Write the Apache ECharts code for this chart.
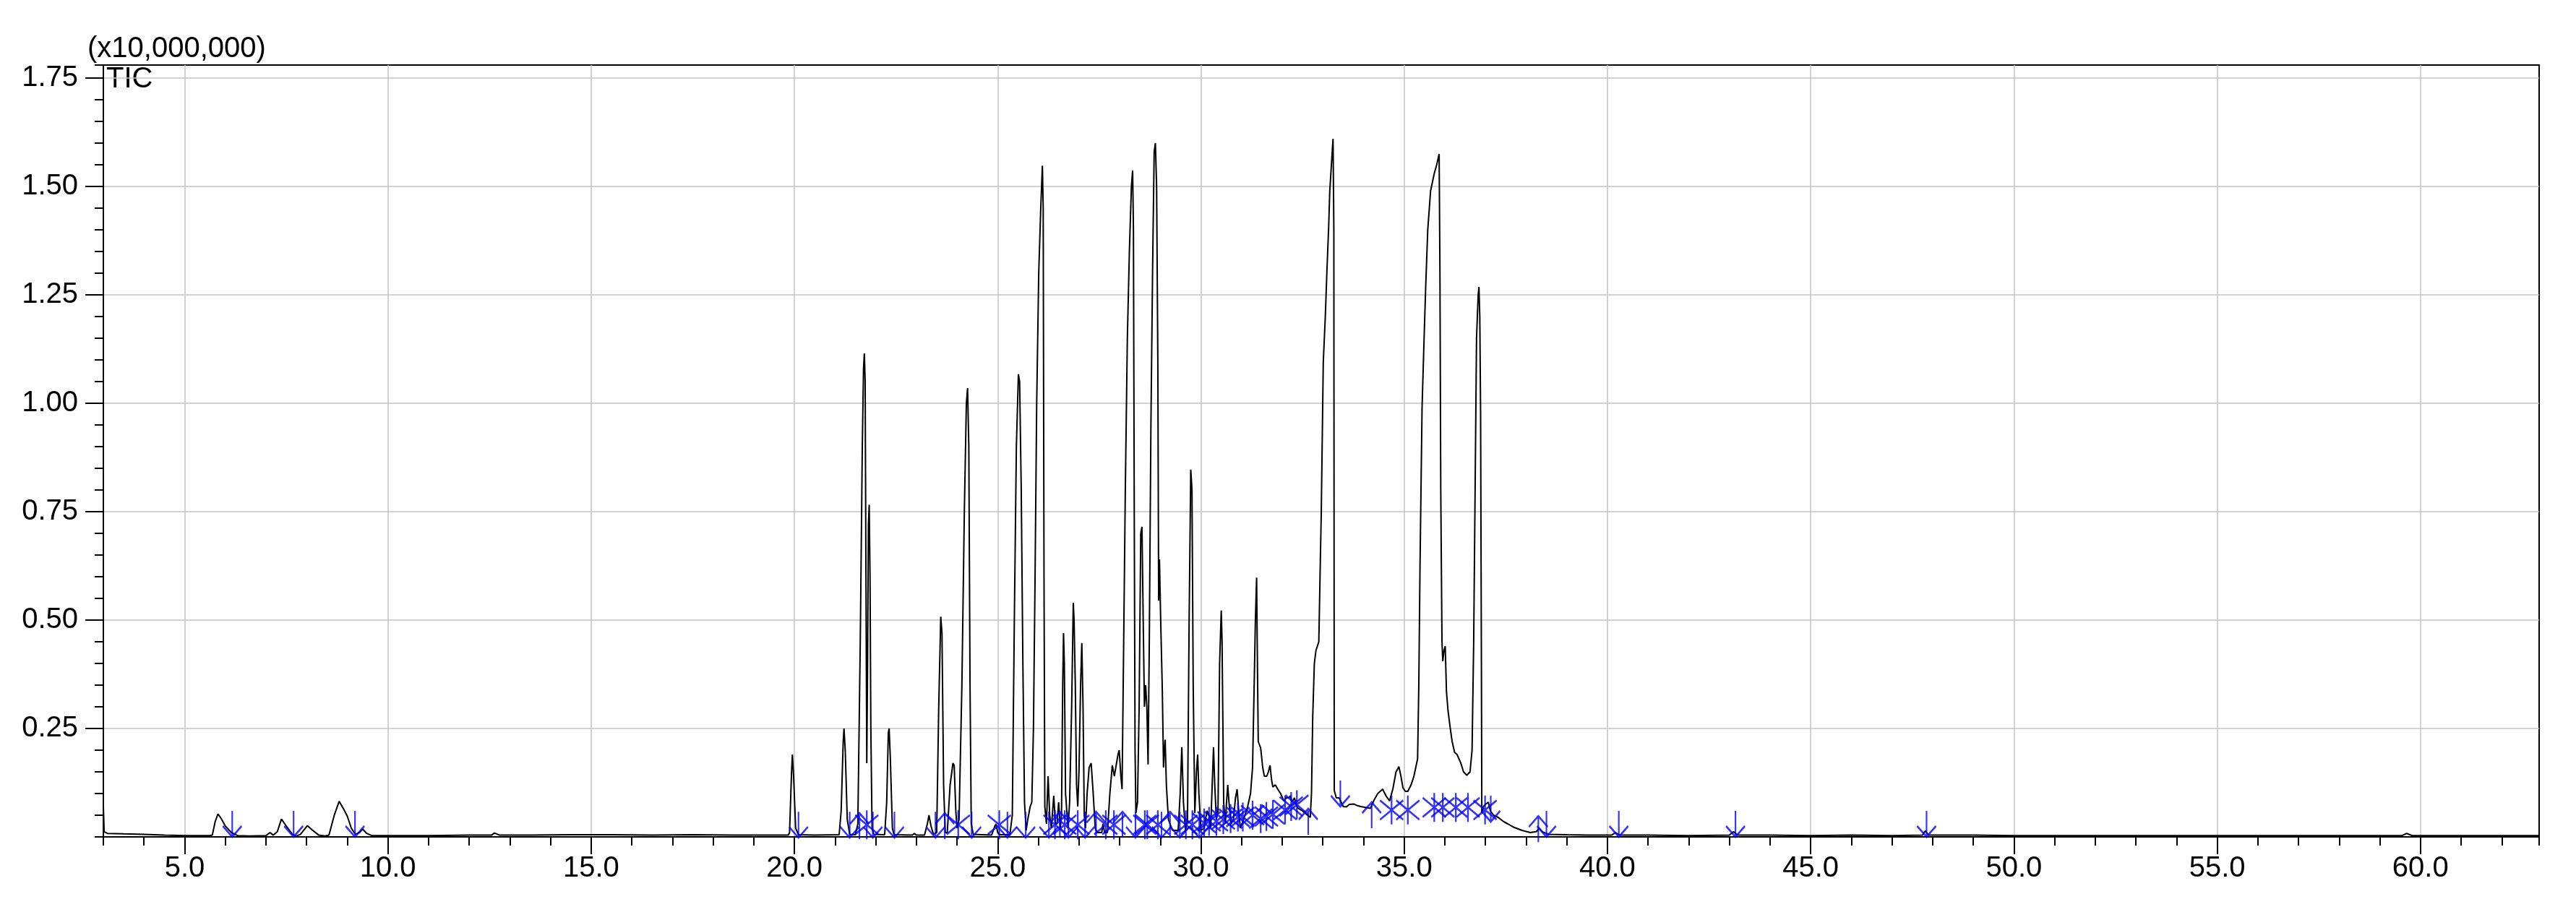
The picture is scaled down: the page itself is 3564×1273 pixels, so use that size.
<!DOCTYPE html>
<html>
<head>
<meta charset="utf-8">
<title>TIC</title>
<script src="https://cdn.jsdelivr.net/npm/echarts@6/dist/echarts.min.js"></script>
<style>
html, body { margin: 0; padding: 0; background: #fff; }
#chart { width: 3564px; height: 1273px; }
</style>
</head>
<body>
<div id="chart"></div>
<script>
// tick labels
var timeTicks = [5, 10, 15, 20, 25, 30, 35, 40, 45, 50, 55, 60];
var intensityTicks = [0.25, 0.5, 0.75, 1.0, 1.25, 1.5, 1.75];

// TIC trace, [retention time (min), intensity (x10,000,000)]
var traceEarly = [
    [3.0, 0.07], [3.02, 0.012], [3.1, 0.008], [3.5, 0.007], [4.0, 0.006], [4.5, 0.004], [5.0, 0.003],
    [5.6, 0.003], [5.68, 0.004], [5.75, 0.035], [5.82, 0.053], [5.9, 0.042], [6.0, 0.025], [6.15, 0.01],
    [6.3, 0.003], [6.6, 0.002], [7.0, 0.003], [7.1, 0.01], [7.18, 0.004], [7.28, 0.012], [7.38, 0.041],
    [7.5, 0.025], [7.65, 0.006], [7.75, 0.002], [7.85, 0.006], [8.02, 0.026], [8.15, 0.015], [8.3, 0.004],
    [8.45, 0.002], [8.55, 0.004], [8.68, 0.05], [8.8, 0.082], [8.9, 0.066], [9.0, 0.048], [9.1, 0.02],
    [9.2, 0.006], [9.3, 0.01], [9.38, 0.018], [9.48, 0.008], [9.6, 0.003], [10.0, 0.003], [11.0, 0.003],
    [12.0, 0.004], [12.55, 0.004], [12.62, 0.009], [12.75, 0.004], [13.5, 0.004], [14.5, 0.005],
    [15.5, 0.005], [16.5, 0.004], [17.5, 0.005], [18.5, 0.004], [19.5, 0.004], [19.85, 0.004]
];
var traceMid = [
    [19.88, 0.01], [19.93, 0.15], [19.95, 0.19], [19.98, 0.14], [20.03, 0.02], [20.1, 0.005], [20.5, 0.004],
    [21.1, 0.005], [21.15, 0.06], [21.2, 0.22], [21.22, 0.25], [21.25, 0.2], [21.3, 0.04], [21.36, 0.006],
    [21.5, 0.005], [21.56, 0.03], [21.62, 0.45], [21.67, 0.9], [21.7, 1.08], [21.72, 1.115], [21.74, 1.05],
    [21.76, 0.6], [21.78, 0.17], [21.8, 0.4], [21.82, 0.72], [21.84, 0.766], [21.86, 0.6], [21.88, 0.25],
    [21.91, 0.02], [21.95, 0.006], [22.22, 0.005], [22.27, 0.08], [22.31, 0.24], [22.33, 0.25], [22.36, 0.18],
    [22.41, 0.02], [22.45, 0.005], [22.9, 0.004], [22.95, 0.008], [23.0, 0.004], [23.2, 0.004], [23.27, 0.03],
    [23.31, 0.05], [23.36, 0.025], [23.42, 0.006], [23.5, 0.01], [23.55, 0.3], [23.6, 0.508], [23.63, 0.47],
    [23.67, 0.12], [23.71, 0.01], [23.76, 0.01], [23.83, 0.12], [23.9, 0.17], [23.93, 0.165], [23.97, 0.06],
    [24.0, 0.02], [24.05, 0.04], [24.12, 0.35], [24.18, 0.75], [24.23, 1.0], [24.26, 1.035], [24.29, 0.9],
    [24.32, 0.35], [24.35, 0.03], [24.4, 0.006], [24.85, 0.004], [24.93, 0.025], [24.96, 0.03], [25.0, 0.01],
    [25.05, 0.005], [25.3, 0.005], [25.36, 0.05], [25.41, 0.5], [25.46, 0.9], [25.51, 1.067], [25.54, 1.05],
    [25.58, 0.8], [25.62, 0.4], [25.66, 0.08], [25.7, 0.015], [25.74, 0.04], [25.8, 0.07], [25.84, 0.08],
    [25.88, 0.25], [25.92, 0.6], [25.96, 1.0], [26.01, 1.3], [26.06, 1.45], [26.1, 1.548], [26.12, 1.45],
    [26.14, 0.6], [26.16, 0.07]
];
var traceCore = [
    [26.2, 0.03], [26.24, 0.14], [26.28, 0.05], [26.32, 0.02], [26.38, 0.095], [26.42, 0.03], [26.46, 0.03],
    [26.5, 0.08], [26.54, 0.02], [26.57, 0.05], [26.6, 0.35], [26.62, 0.47], [26.64, 0.4], [26.67, 0.1],
    [26.73, 0.02], [26.77, 0.08], [26.82, 0.3], [26.86, 0.54], [26.88, 0.5], [26.91, 0.35], [26.94, 0.12],
    [26.97, 0.07], [27.0, 0.15], [27.04, 0.35], [27.07, 0.447], [27.1, 0.3], [27.13, 0.05], [27.16, 0.02],
    [27.2, 0.1], [27.25, 0.16], [27.3, 0.17], [27.35, 0.1], [27.4, 0.02], [27.45, 0.01], [27.56, 0.01],
    [27.59, 0.03], [27.63, 0.01], [27.7, 0.01], [27.76, 0.1], [27.82, 0.165], [27.87, 0.14], [27.9, 0.14],
    [27.96, 0.19], [27.99, 0.2], [28.03, 0.14], [28.06, 0.11], [28.1, 0.45], [28.14, 0.8], [28.19, 1.15],
    [28.24, 1.35], [28.29, 1.5], [28.32, 1.537], [28.34, 1.4], [28.36, 0.75], [28.38, 0.2], [28.4, 0.055],
    [28.44, 0.08], [28.48, 0.3], [28.52, 0.7], [28.55, 0.715], [28.58, 0.5], [28.61, 0.3], [28.64, 0.35],
    [28.67, 0.3], [28.7, 0.167], [28.73, 0.45], [28.77, 0.95], [28.81, 1.3], [28.85, 1.58], [28.88, 1.6],
    [28.91, 1.5], [28.94, 1.1], [28.96, 0.545], [28.98, 0.64], [29.01, 0.5], [29.05, 0.34], [29.08, 0.16],
    [29.1, 0.2], [29.12, 0.224], [29.15, 0.12], [29.2, 0.04], [29.3, 0.015], [29.44, 0.015], [29.49, 0.1],
    [29.53, 0.207], [29.57, 0.08], [29.62, 0.015], [29.67, 0.04], [29.71, 0.5], [29.75, 0.847], [29.78, 0.8],
    [29.81, 0.35], [29.85, 0.055], [29.89, 0.15], [29.92, 0.19], [29.95, 0.1], [30.0, 0.015], [30.08, 0.02],
    [30.15, 0.06], [30.2, 0.05], [30.24, 0.02], [30.27, 0.1], [30.31, 0.207], [30.34, 0.12], [30.38, 0.04],
    [30.42, 0.06], [30.46, 0.4], [30.5, 0.522], [30.52, 0.45], [30.56, 0.08], [30.6, 0.03], [30.63, 0.08],
    [30.66, 0.12], [30.69, 0.08], [30.74, 0.03], [30.8, 0.04], [30.85, 0.09], [30.89, 0.11], [30.93, 0.06],
    [30.97, 0.02], [31.05, 0.04], [31.15, 0.07], [31.22, 0.1], [31.27, 0.16], [31.31, 0.35], [31.34, 0.5],
    [31.37, 0.598]
];
var traceLate = [
    [31.39, 0.4], [31.41, 0.22], [31.47, 0.205], [31.52, 0.16], [31.56, 0.14], [31.62, 0.14], [31.66, 0.15],
    [31.7, 0.165], [31.74, 0.13], [31.77, 0.115], [31.83, 0.12], [31.89, 0.11], [31.96, 0.1], [32.04, 0.083],
    [32.1, 0.09], [32.16, 0.09], [32.2, 0.095], [32.24, 0.08], [32.3, 0.09], [32.34, 0.075], [32.39, 0.066],
    [32.5, 0.06], [32.57, 0.054], [32.69, 0.045], [32.72, 0.1], [32.75, 0.276], [32.79, 0.4], [32.83, 0.43],
    [32.9, 0.45], [32.93, 0.6], [32.96, 0.744], [33.01, 1.095], [33.06, 1.2], [33.1, 1.306], [33.14, 1.4],
    [33.17, 1.49], [33.21, 1.55], [33.25, 1.61], [33.27, 1.4], [33.28, 0.107], [33.33, 0.09], [33.4, 0.09],
    [33.5, 0.07], [33.58, 0.069], [33.65, 0.075], [33.76, 0.076], [33.85, 0.072], [33.93, 0.07], [34.05, 0.068],
    [34.17, 0.066], [34.26, 0.085], [34.35, 0.1], [34.47, 0.11], [34.55, 0.095], [34.64, 0.083], [34.72, 0.11],
    [34.8, 0.15], [34.87, 0.162], [34.92, 0.14], [34.97, 0.113], [35.03, 0.105], [35.09, 0.105], [35.17, 0.12],
    [35.24, 0.14], [35.33, 0.18], [35.36, 0.35], [35.39, 0.628], [35.44, 0.99], [35.49, 1.15], [35.53, 1.27],
    [35.58, 1.4], [35.65, 1.49], [35.74, 1.53], [35.8, 1.55], [35.86, 1.575], [35.88, 1.3], [35.9, 0.8],
    [35.93, 0.45], [35.95, 0.405], [35.98, 0.43], [36.01, 0.44], [36.04, 0.335], [36.08, 0.29], [36.13, 0.253],
    [36.18, 0.22], [36.24, 0.195], [36.3, 0.19], [36.39, 0.171], [36.46, 0.15], [36.54, 0.142], [36.62, 0.15],
    [36.67, 0.2], [36.71, 0.45], [36.74, 0.75], [36.78, 1.15], [36.82, 1.25], [36.84, 1.268], [36.86, 1.2],
    [36.88, 0.98], [36.9, 0.4], [36.91, 0.055], [36.95, 0.07], [37.0, 0.075], [37.07, 0.08], [37.12, 0.06],
    [37.2, 0.05], [37.31, 0.045], [37.45, 0.035], [37.55, 0.03], [37.7, 0.022], [37.9, 0.015], [38.1, 0.01],
    [38.25, 0.012], [38.32, 0.02], [38.4, 0.012], [38.55, 0.006], [39.0, 0.005], [39.5, 0.004], [40.1, 0.004],
    [40.2, 0.01], [40.3, 0.004]
];
var traceTail = [
    [41.0, 0.004], [42.0, 0.003], [43.0, 0.004], [43.1, 0.012], [43.2, 0.004], [44.0, 0.004], [45.0, 0.003],
    [46.0, 0.004], [47.0, 0.003], [47.75, 0.004], [47.82, 0.014], [47.9, 0.004], [49.0, 0.004], [50.0, 0.003],
    [52.0, 0.003], [54.0, 0.003], [56.0, 0.003], [58.0, 0.003], [59.55, 0.003], [59.66, 0.008], [59.8, 0.003],
    [61.0, 0.003], [62.92, 0.003]
];

// peak integration marks
var downMarks = [
    [6.17, 0.03], [7.68, 0.03], [9.19, 0.03], [20.1, 0.028], [21.36, 0.028], [21.93, 0.028], [22.46, 0.028],
    [23.47, 0.028], [24.36, 0.028], [25.24, 0.028], [25.69, 0.028], [26.26, 0.028], [26.74, 0.028],
    [27.15, 0.028], [28.39, 0.028], [29.03, 0.028], [29.48, 0.028], [29.96, 0.028], [33.43, 0.1],
    [37.13, 0.065], [38.5, 0.03], [40.28, 0.03], [43.15, 0.03], [47.85, 0.03]
];
var upMarks = [
    [21.6, 0.025], [23.7, 0.025], [26.53, 0.028], [27.42, 0.028], [28.07, 0.028], [29.24, 0.028],
    [32.64, 0.035], [34.2, 0.05], [38.3, 0.018]
];
var crossMarks = [
    [21.78, 0.028], [24.03, 0.028], [25.04, 0.028], [26.41, 0.028], [26.65, 0.028], [26.97, 0.028],
    [27.66, 0.028], [27.86, 0.028], [28.62, 0.028], [28.68, 0.028], [28.94, 0.028], [29.63, 0.028],
    [29.79, 0.028], [30.08, 0.032], [30.2, 0.036], [30.38, 0.036], [30.55, 0.04], [30.73, 0.042], [30.91, 0.046],
    [31.03, 0.046], [31.27, 0.05], [31.47, 0.042], [31.61, 0.047], [31.77, 0.052], [32.07, 0.062], [32.22, 0.07],
    [32.36, 0.074], [34.69, 0.062], [35.09, 0.062], [35.74, 0.068], [35.95, 0.068], [36.27, 0.068],
    [36.57, 0.068], [36.99, 0.062]
];

var FONT = 'Liberation Sans, Arial, sans-serif';
var BLUE = '#0000ff';

function markSeries(data, path, size){
    return {
        type: 'scatter',
        data: data,
        symbol: path,
        symbolSize: size,
        silent: true,
        z: 4,
        itemStyle: { color: 'none', borderColor: BLUE, borderWidth: 2.5 }
    };
}

var chart = echarts.init(document.getElementById('chart'), null, { renderer: 'canvas' });

chart.setOption({
    animation: false,
    backgroundColor: '#fff',
    grid: {
        left: 143, right: 51, top: 90, bottom: 115,
        show: true, borderColor: '#000', borderWidth: 2, backgroundColor: 'transparent'
    },
    graphic: [
        { type: 'text', left: 121, top: 48, style: { text: '(x10,000,000)', font: '40px ' + FONT, fill: '#000' } },
        { type: 'text', left: 147, top: 90, style: { text: 'TIC', font: '40px ' + FONT, fill: '#000' } }
    ],
    xAxis: [
        {
            type: 'value', position: 'bottom', min: 3, max: 62.92, interval: 1,
            axisLine: { show: true, lineStyle: { color: '#000', width: 2 } },
            axisTick: { show: true, length: 12, lineStyle: { color: '#000', width: 2 } },
            axisLabel: { show: false },
            splitLine: { show: false }
        },
        {
            type: 'value', position: 'bottom', min: 3, max: 62.92,
            axisLine: { show: false },
            axisTick: { show: true, customValues: timeTicks, length: 24, lineStyle: { color: '#000', width: 2 } },
            axisLabel: {
                customValues: timeTicks, margin: 24, color: '#000', fontSize: 40, fontFamily: FONT,
                formatter: function(v){ return v.toFixed(1); }
            },
            splitLine: { show: true, lineStyle: { color: '#c4c4c4', width: 1.5 } }
        }
    ],
    yAxis: [
        {
            type: 'value', position: 'left', min: 0, max: 1.78,
            axisLine: { show: true, lineStyle: { color: '#000', width: 2 } },
            axisTick: { show: true, customValues: intensityTicks, length: 25, lineStyle: { color: '#000', width: 2 } },
            axisLabel: {
                customValues: intensityTicks, margin: 35, color: '#000', fontSize: 40, fontFamily: FONT,
                formatter: function(v){ return v.toFixed(2); }
            },
            splitLine: { show: true, lineStyle: { color: '#c4c4c4', width: 1.5 } }
        },
        {
            type: 'value', position: 'left', min: 0, max: 1.78, interval: 0.05,
            axisLine: { show: false },
            axisTick: { show: true, length: 12, lineStyle: { color: '#000', width: 2 } },
            axisLabel: { show: false },
            splitLine: { show: false }
        }
    ],
    series: [
        {
            type: 'line',
            name: 'TIC',
            data: traceEarly.concat(traceMid, traceCore, traceLate, traceTail),
            showSymbol: false,
            silent: true,
            z: 3,
            lineStyle: { color: '#000', width: 2 }
        },
        markSeries(downMarks, 'path://M10,0L10,24M0,14L10,24L20,14', [26, 36]),
        markSeries(upMarks, 'path://M10,24L10,0M0,10L10,0L20,10', [26, 36]),
        markSeries(crossMarks, 'path://M10,0L10,24M0,4L20,20M0,20L20,4', [32, 40])
    ]
});
</script>
</body>
</html>
